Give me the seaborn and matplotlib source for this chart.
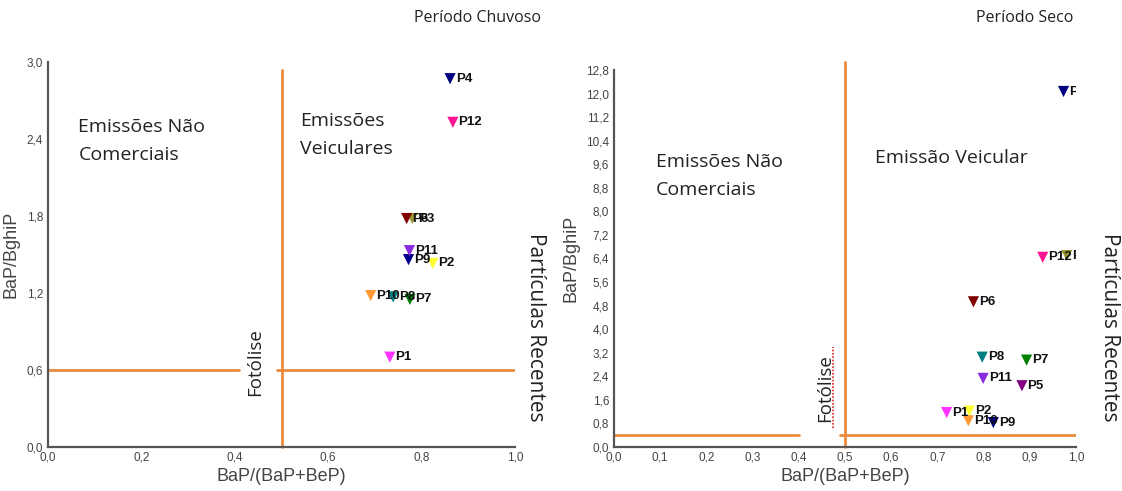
import matplotlib
matplotlib.use("Agg")
import matplotlib.pyplot as plt
import seaborn as sns
import pandas as pd
import numpy as np

# ---------------- data ----------------
labels_chuvoso = ["P1", "P2", "P3", "P4", "P6", "P7", "P8", "P9", "P10", "P11", "P12"]
x_chuvoso = [0.732, 0.824, 0.780, 0.861, 0.768, 0.775, 0.739, 0.772, 0.691, 0.774, 0.867]
y_chuvoso = [0.70, 1.43, 1.78, 2.87, 1.78, 1.15, 1.17, 1.46, 1.18, 1.53, 2.53]

labels_seco = ["P1", "P2", "P3", "P4", "P5", "P6", "P7", "P8", "P9", "P10", "P11", "P12"]
x_seco = [0.720, 0.769, 0.980, 0.973, 0.883, 0.778, 0.893, 0.797, 0.821, 0.767, 0.799, 0.928]
y_seco = [1.17, 1.22, 6.50, 12.07, 2.08, 4.93, 2.95, 3.05, 0.83, 0.89, 2.33, 6.44]

colors = {
    "P1": "#ff33ff", "P2": "#ffff33", "P3": "#999933", "P4": "#000080",
    "P5": "#800080", "P6": "#800000", "P7": "#008000", "P8": "#008080",
    "P9": "#00008b", "P10": "#ff9933", "P11": "#8a2be2", "P12": "#ff1493",
}

xticks_chuvoso = [0.0, 0.2, 0.4, 0.6, 0.8, 1.0]
yticks_chuvoso = [0.0, 0.6, 1.2, 1.8, 2.4, 3.0]
xticks_seco = [0.0, 0.1, 0.2, 0.3, 0.4, 0.5, 0.6, 0.7, 0.8, 0.9, 1.0]
yticks_seco = [0.0, 0.8, 1.6, 2.4, 3.2, 4.0, 4.8, 5.6, 6.4, 7.2, 8.0, 8.8, 9.6, 10.4, 11.2, 12.0, 12.8]

# ---------------- figure ----------------
sns.set_theme(style="white")
plt.rcParams["font.family"] = ["Liberation Sans", "DejaVu Sans"]

W, H = 1122, 491
fig = plt.figure(figsize=(W / 100, H / 100), dpi=100)

def px(x0, y0, x1, y1):
    return [x0 / W, 1 - y1 / H, (x1 - x0) / W, (y1 - y0) / H]

ax1 = fig.add_axes(px(48, 62, 515, 447))
ax2 = fig.add_axes(px(614, 70, 1076, 447))

ORANGE = "#e98a3c"
SPINE = "#555555"
TXT = "#444444"
CAL = ["Open Sans", "DejaVu Sans"]


def comma(v, nd=1):
    return f"{v:.{nd}f}".replace(".", ",")


def style(ax, xt, yt):
    for s in ["top", "right"]:
        ax.spines[s].set_visible(False)
    for s in ["left", "bottom"]:
        ax.spines[s].set_color(SPINE)
        ax.spines[s].set_linewidth(1.6)
    ax.set_xticks(xt)
    ax.set_yticks(yt)
    ax.set_xticklabels([comma(v) for v in xt], fontsize=8.5, color=TXT)
    ax.set_yticklabels([comma(v) for v in yt], fontsize=8.5, color=TXT)
    ax.tick_params(axis="both", length=2, width=0.8, color=SPINE, pad=1.5)
    ax.set_xlabel("BaP/(BaP+BeP)", fontsize=13, color=TXT, labelpad=3)
    ax.set_ylabel("BaP/BghiP", fontsize=13, color=TXT, labelpad=5)
    ax.grid(False)


def points(ax, labels, xs, ys, clip=False):
    df = pd.DataFrame({"x": xs, "y": ys, "label": labels})
    sns.scatterplot(data=df, x="x", y="y", hue="label", palette=colors,
                    marker="v", s=65, edgecolor="none", legend=False, ax=ax,
                    clip_on=False, zorder=3)
    for lab, xv, yv in zip(labels, xs, ys):
        ax.annotate(lab, (xv, yv), xytext=(4, 0), textcoords="offset points",
                    fontsize=9.5, fontweight="bold", color="#111111",
                    va="center", ha="left", zorder=4, clip_on=clip)


# ---- left: Período Chuvoso ----
ax1.set_xlim(0, 1)
ax1.set_ylim(0, 3.0)
ax1.plot([0.5, 0.5], [0, 2.94], color=ORANGE, lw=2, zorder=1, clip_on=False)
ax1.plot([0, 0.41], [0.6, 0.6], color=ORANGE, lw=2, zorder=1)
ax1.plot([0.49, 1.0], [0.6, 0.6], color=ORANGE, lw=2, zorder=1)
points(ax1, labels_chuvoso, x_chuvoso, y_chuvoso)
style(ax1, xticks_chuvoso, yticks_chuvoso)
ax1.text(0.065, 2.385, "Emissões Não\nComerciais", fontsize=14, family=CAL,
         color="#222222", ha="left", va="center", linespacing=1.75)
ax1.text(0.54, 2.43, "Emissões\nVeiculares", fontsize=14, family=CAL,
         color="#222222", ha="left", va="center", linespacing=1.75)
ax1.text(0.443, 0.66, "Fotólise", fontsize=13.5, family=CAL, rotation=90,
         color="#222222", ha="center", va="center")
fig.text(536 / W, 1 - 327 / H, "Partículas Recentes", fontsize=15, family=CAL,
         rotation=-90, color="#222222", ha="center", va="center")
fig.text(478 / W, 1 - 18 / H, "Período Chuvoso", fontsize=11.5, family=CAL,
         color="#222222", ha="center", va="center")

# ---- right: Período Seco ----
ax2.set_xlim(0, 1)
ax2.set_ylim(0, 12.8)
ax2.plot([0.5, 0.5], [0, 13.07], color=ORANGE, lw=2, zorder=1, clip_on=False)
ax2.plot([0, 0.40], [0.4, 0.4], color=ORANGE, lw=2, zorder=1)
ax2.plot([0.49, 1.0], [0.4, 0.4], color=ORANGE, lw=2, zorder=1)
ax2.plot([0.474, 0.474], [0.65, 3.4], color="#dd2222", lw=1.2, ls=(0, (1, 1)), zorder=1)
points(ax2, labels_seco, x_seco, y_seco, clip=True)
style(ax2, xticks_seco, yticks_seco)
ax2.text(0.09, 9.2, "Emissões Não\nComerciais", fontsize=14, family=CAL,
         color="#222222", ha="left", va="center", linespacing=1.75)
ax2.text(0.565, 9.8, "Emissão Veicular", fontsize=14, family=CAL,
         color="#222222", ha="left", va="center")
ax2.text(0.457, 2.0, "Fotólise", fontsize=13.5, family=CAL, rotation=90,
         color="#222222", ha="center", va="center")
fig.text(1110 / W, 1 - 327 / H, "Partículas Recentes", fontsize=15, family=CAL,
         rotation=-90, color="#222222", ha="center", va="center")
fig.text(1025 / W, 1 - 18 / H, "Período Seco", fontsize=11.5, family=CAL,
         color="#222222", ha="center", va="center")

fig.savefig("out.png", dpi=100)
